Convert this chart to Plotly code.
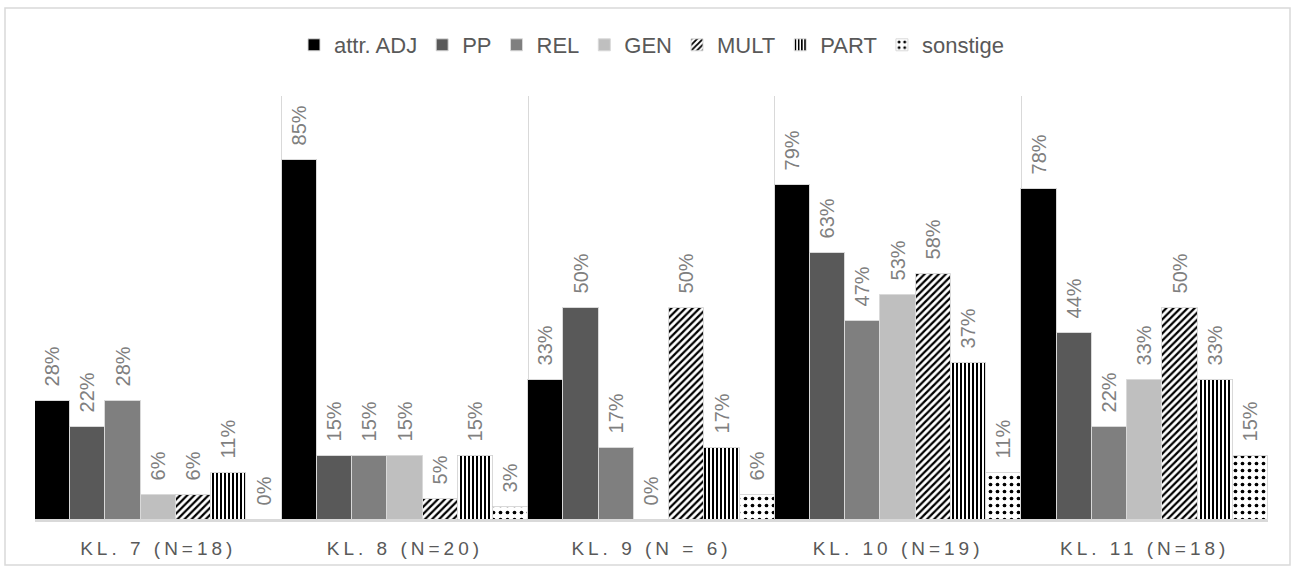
import plotly.graph_objects as go

categories = ["KL. 7 (N=18)", "KL. 8 (N=20)", "KL. 9 (N = 6)", "KL. 10 (N=19)", "KL. 11 (N=18)"]
series_names = ["attr. ADJ", "PP", "REL", "GEN", "MULT", "PART", "sonstige"]
attr_adj = [28, 85, 33, 79, 78]
pp = [22, 15, 50, 63, 44]
rel = [28, 15, 17, 47, 22]
gen = [6, 15, 0, 53, 33]
mult = [6, 5, 50, 58, 50]
part = [11, 15, 17, 37, 33]
sonstige = [0, 3, 6, 11, 15]

values = [attr_adj, pp, rel, gen, mult, part, sonstige]
styles = [
    dict(color="#000000"),
    dict(color="#595959"),
    dict(color="#7f7f7f"),
    dict(color="#bfbfbf"),
    dict(color="#ffffff", pattern=dict(shape="/", fgcolor="#000000", bgcolor="#ffffff", size=5, solidity=0.45, fillmode="replace")),
    dict(color="#ffffff", pattern=dict(shape="|", fgcolor="#000000", bgcolor="#ffffff", size=4, solidity=0.5, fillmode="replace")),
    dict(color="#ffffff", pattern=dict(shape=".", fgcolor="#000000", bgcolor="#ffffff", size=7, solidity=0.22, fillmode="replace")),
]

fig = go.Figure()
for name, vals, st in zip(series_names, values, styles):
    fig.add_trace(go.Bar(
        name=name, x=categories, y=vals,
        marker=dict(**st, line=dict(color="#d9d9d9", width=1)),
        text=[f"\u00a0\u00a0{v}%" for v in vals], textposition="outside", textangle=-90,
        constraintext="none",
        outsidetextfont=dict(color="#7f7f7f", size=20, family="Arial, Liberation Sans"),
        cliponaxis=False,
    ))

W, H = 1296, 566
ml, mr, mt, mb = 35, 28, 96, 46
pw, ph = W - ml - mr, H - mt - mb

def px_x(p):
    return (p - ml) / pw

def px_y(p):
    return (H - mb - p) / ph

fig.update_layout(
    width=W, height=H,
    margin=dict(l=ml, r=mr, t=mt, b=mb, autoexpand=False),
    barmode="group", bargap=0, bargroupgap=0,
    plot_bgcolor="white", paper_bgcolor="white",
    font=dict(family="Arial, Liberation Sans", color="#595959"),
    legend=dict(orientation="h", x=0.5, xanchor="center", y=px_y(45), yanchor="middle",
                font=dict(size=22, color="#595959"), itemwidth=30, traceorder="normal"),
    xaxis=dict(tickson="boundaries", showgrid=True, gridcolor="#d9d9d9", gridwidth=1,
               showline=True, linecolor="#d9d9d9", linewidth=1.5, ticks="",
               tickfont=dict(size=19, color="#595959"), ticklabelstandoff=10),
    yaxis=dict(range=[0, 100], visible=False, showgrid=False, zeroline=False),
    shapes=[dict(type="rect", xref="paper", yref="paper",
                 x0=px_x(5), x1=px_x(1290), y0=px_y(565), y1=px_y(8),
                 line=dict(color="#d9d9d9", width=1.5), layer="below")],
)

post = ("var s=document.createElement('style');"
        "s.textContent='body{margin:0;overflow:hidden} .xtick text{letter-spacing:4px}';"
        "document.head.appendChild(s);")
fig.write_html("out.html", post_script=post, config={"displayModeBar": False})
